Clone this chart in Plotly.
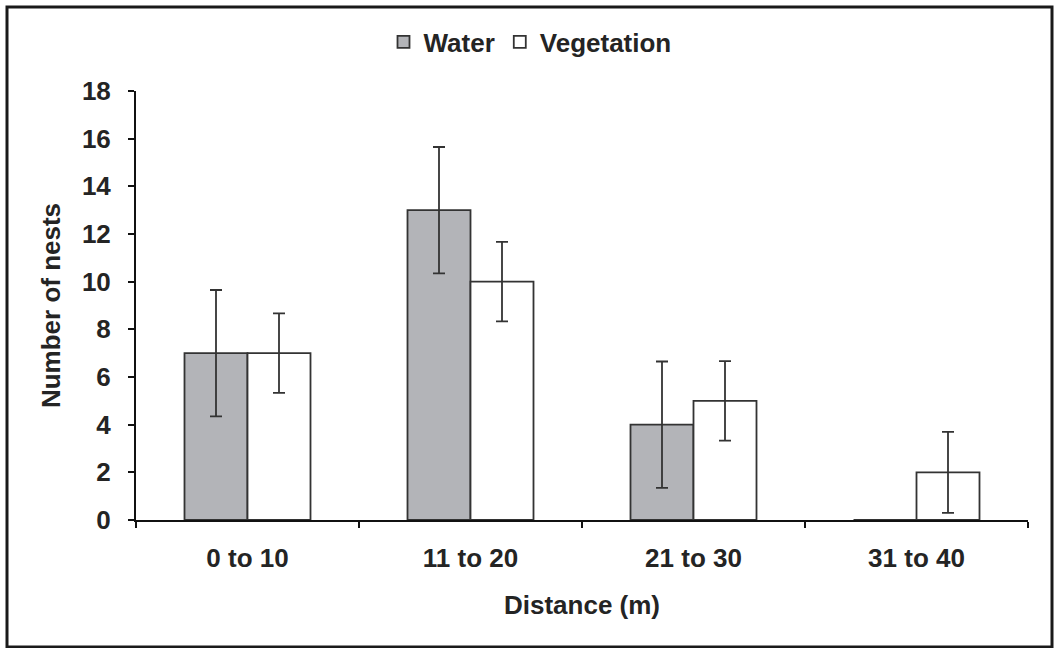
import plotly.graph_objects as go

categories = ["0 to 10", "11 to 20", "21 to 30", "31 to 40"]
water = [7, 13, 4, 0]
water_err = [2.65, 2.65, 2.65, 0]
vegetation = [7, 10, 5, 2]
veg_err = [1.67, 1.67, 1.67, 1.7]
y_ticks = [0, 2, 4, 6, 8, 10, 12, 14, 16, 18]

FONT = "Liberation Sans, Arial, sans-serif"
TXT = "#242424"
LINE = "#333333"
FS = 26

def b(s):
    return "<b>" + s + "</b>"

fig = go.Figure()
fig.add_trace(go.Bar(
    name=b("Water"), x=categories, y=water,
    marker=dict(color="#b3b4b8", line=dict(color=LINE, width=1.8)),
    error_y=dict(type="data", array=water_err, visible=True, color=LINE, thickness=1.8, width=6),
))
fig.add_trace(go.Bar(
    name=b("Vegetation"), x=categories, y=vegetation,
    marker=dict(color="white", line=dict(color=LINE, width=1.8)),
    error_y=dict(type="data", array=veg_err, visible=True, color=LINE, thickness=1.8, width=6),
))

L, R, T, B = 136, 27, 91, 128
W, H = 1055, 648
pw, ph = W - L - R, H - T - B

fig.update_layout(
    width=W, height=H,
    margin=dict(l=L, r=R, t=T, b=B),
    paper_bgcolor="white", plot_bgcolor="white",
    barmode="group", bargap=0.435, bargroupgap=0,
    font=dict(family=FONT, size=FS, color=TXT),
    showlegend=True,
    legend=dict(orientation="h", x=(530 - L) / pw, xanchor="center", y=(H - B - 42) / ph, yanchor="middle",
                font=dict(size=FS, color=TXT, weight="bold"), itemwidth=30, traceorder="normal",
                bgcolor="rgba(0,0,0,0)"),
    xaxis=dict(
        type="category", range=[-0.5, 3.5],
        showline=True, linecolor="#111", linewidth=2,
        ticks="outside", tickson="boundaries", ticklen=6, tickwidth=2, tickcolor="#111",
        ticklabelstandoff=14,
        showgrid=False, zeroline=False,
        tickfont=dict(size=FS, color=TXT, weight="bold"),
        title=dict(text="Distance (m)", font=dict(size=FS, color=TXT, weight="bold"), standoff=24),
    ),
    yaxis=dict(
        range=[0, 18], tickvals=y_ticks,
        showline=True, linecolor="#111", linewidth=2,
        ticks="outside", ticklen=6, tickwidth=2, tickcolor="#111",
        ticklabelstandoff=12,
        showgrid=False, zeroline=False,
        tickfont=dict(size=FS, color=TXT, weight="bold"),
        title=dict(text="Number of nests", font=dict(size=FS, color=TXT, weight="bold"), standoff=14),
    ),
)

# outer frame of the figure
fig.add_shape(type="rect", xref="paper", yref="paper",
              x0=(7 - L) / pw, x1=(1052 - L) / pw,
              y0=(H - B - 647) / ph, y1=(H - B - 7) / ph,
              line=dict(color="#1a1a1a", width=3), fillcolor="rgba(0,0,0,0)", layer="below")

fig.write_html("out.html", config={"displayModeBar": False},
               post_script="document.body.style.margin='0px';")
